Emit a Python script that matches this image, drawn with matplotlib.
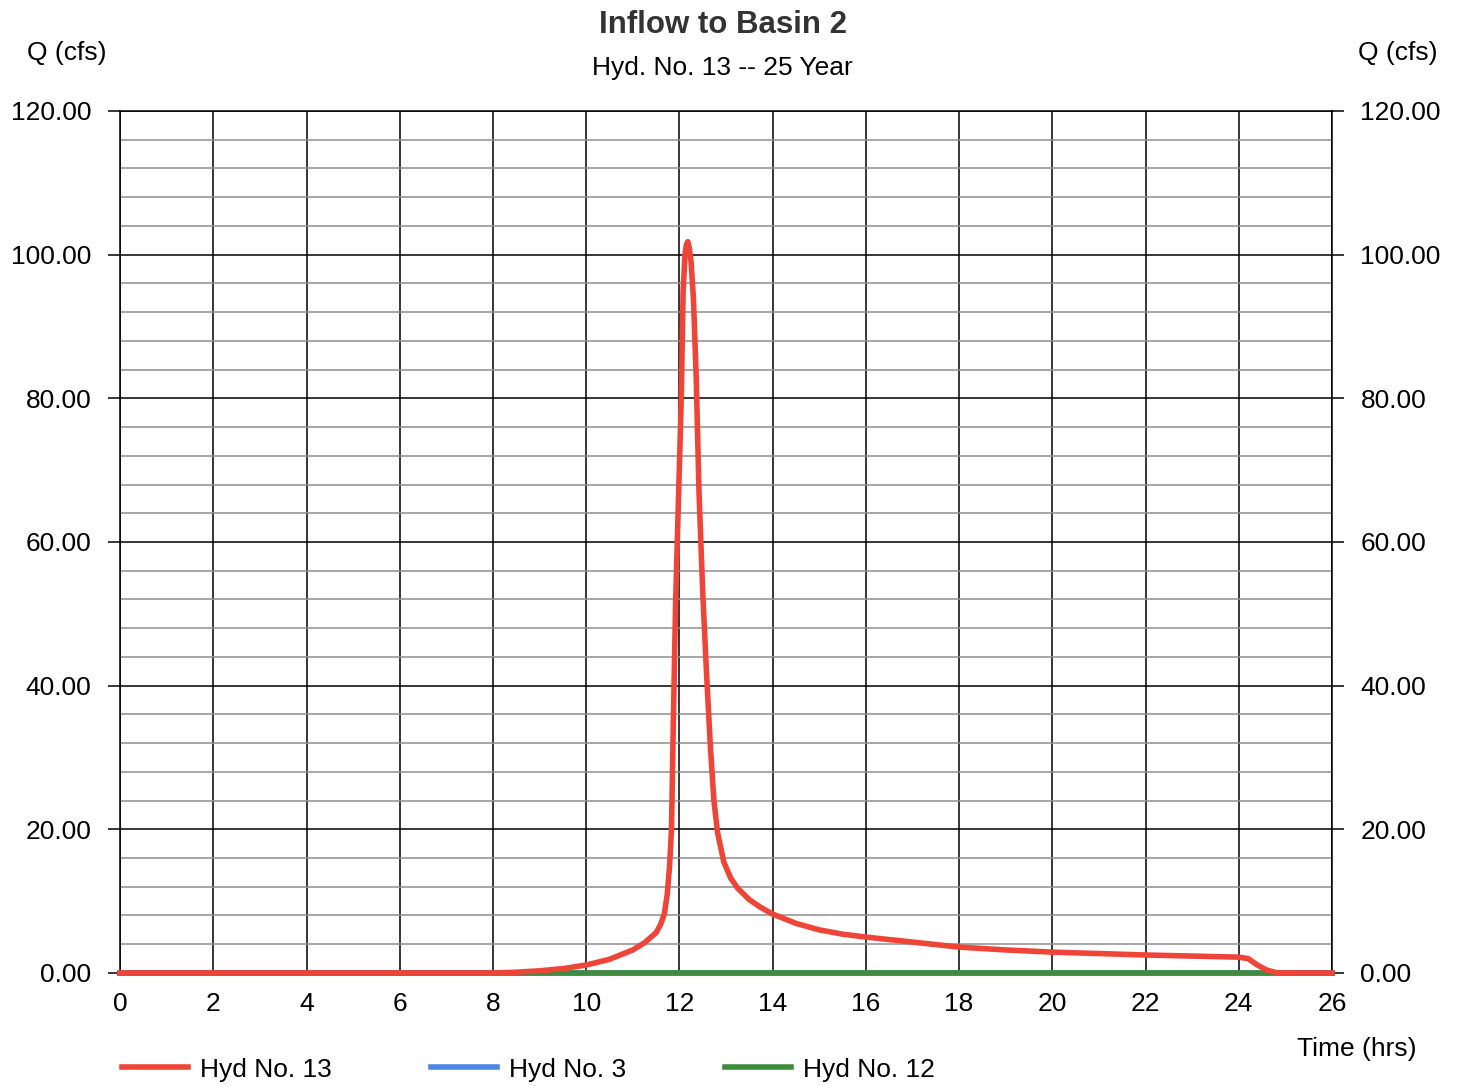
import matplotlib
matplotlib.use("Agg")
import matplotlib.pyplot as plt
from matplotlib.ticker import MultipleLocator

plt.rcParams["font.family"] = ["Liberation Sans", "DejaVu Sans"]

# Hyd No. 13 -- inflow hydrograph (hrs, cfs)
hyd13_hours = [0.0, 8.0, 8.5, 9.0, 9.5, 10.0, 10.5, 11.0, 11.25, 11.5, 11.6, 11.68,
               11.74, 11.79, 11.83, 11.87, 11.92, 11.98, 12.04, 12.08, 12.12, 12.15,
               12.18, 12.21, 12.25, 12.3, 12.36, 12.42, 12.5, 12.58, 12.66, 12.74,
               12.82, 12.95, 13.1, 13.25, 13.5, 13.75, 14.0, 14.5,
               15.0, 15.5, 16.0, 17.0, 18.0, 19.0, 20.0, 21.0, 22.0, 23.0, 24.0,
               24.2, 24.4, 24.6, 24.8, 25.0, 26.0]
hyd13_q = [0.0, 0.0, 0.1, 0.3, 0.6, 1.1, 1.9, 3.2, 4.2, 5.6, 6.8, 8.3,
           11.0, 15.0, 20.0, 35.0, 52.0, 66.0, 80.0, 95.0, 100.0, 101.4,
           101.8, 101.0, 99.0, 94.0, 83.0, 67.0, 53.0, 42.0, 32.0, 24.0,
           19.5, 15.5, 13.2, 11.8, 10.2, 9.1, 8.2, 6.9,
           6.0, 5.4, 5.0, 4.3, 3.6, 3.2, 2.9, 2.7, 2.5, 2.35, 2.2,
           2.0, 1.1, 0.4, 0.05, 0.0, 0.0]

# Hyd No. 3 and Hyd No. 12 sit on the zero line for the whole storm
base_hours = [0.0, 26.0]
hyd3_q = [0.0, 0.0]
hyd12_q = [0.0, 0.0]

x_ticks = list(range(0, 27, 2))
y_ticks = list(range(0, 121, 20))

fig = plt.figure(figsize=(14.57, 10.86), dpi=100)
ax = fig.add_axes([0.0824, 0.1041, 0.8318, 0.7937])

ax.plot(base_hours, hyd3_q, color="#4f86e0", lw=4.0, clip_on=False, label="Hyd No. 3", zorder=3)
ax.plot(base_hours, hyd12_q, color="#3d8b3d", lw=4.0, clip_on=False, label="Hyd No. 12", zorder=4)
ax.plot(hyd13_hours, hyd13_q, color="#ef4438", lw=4.0, clip_on=False, label="Hyd No. 13",
        solid_joinstyle="round", zorder=5)

ax.set_xlim(0, 26)
ax.set_ylim(0, 120)
ax.set_xticks(x_ticks)
ax.set_yticks(y_ticks)
ax.yaxis.set_minor_locator(MultipleLocator(4))
ax.set_yticklabels([f"{v:.2f}" for v in y_ticks])

ax.grid(True, which="major", color="black", lw=1.1)
ax.grid(True, which="minor", axis="y", color="#8e8e8e", lw=1.1)
ax.set_axisbelow(True)
for s in ax.spines.values():
    s.set_color("black")
    s.set_linewidth(1.1)

ax.tick_params(axis="x", length=0, pad=14, labelsize=19)
ax.tick_params(axis="y", which="major", length=8.5, width=1.1, pad=12, labelsize=19,
               right=True, labelright=True)
ax.tick_params(axis="y", which="minor", length=0)

fig.text(0.496, 0.977, "Inflow to Basin 2", ha="center", va="center",
         fontsize=22.5, fontweight="bold", color="#333333")
fig.text(0.496, 0.937, "Hyd. No. 13 -- 25 Year", ha="center", va="center", fontsize=19)
fig.text(0.046, 0.951, "Q (cfs)", ha="center", va="center", fontsize=19)
fig.text(0.959, 0.951, "Q (cfs)", ha="center", va="center", fontsize=19)
fig.text(0.931, 0.034, "Time (hrs)", ha="center", va="center", fontsize=19)

handles, labels = ax.get_legend_handles_labels()
order = [2, 0, 1]
fig.legend([handles[i] for i in order], [labels[i] for i in order],
           loc="center left", bbox_to_anchor=(0.084, 0.015), ncol=3, frameon=False,
           fontsize=19, handlelength=2.5, handletextpad=0.45, columnspacing=3.75,
           borderpad=0, borderaxespad=0)

fig.savefig("out.png", dpi=100)
